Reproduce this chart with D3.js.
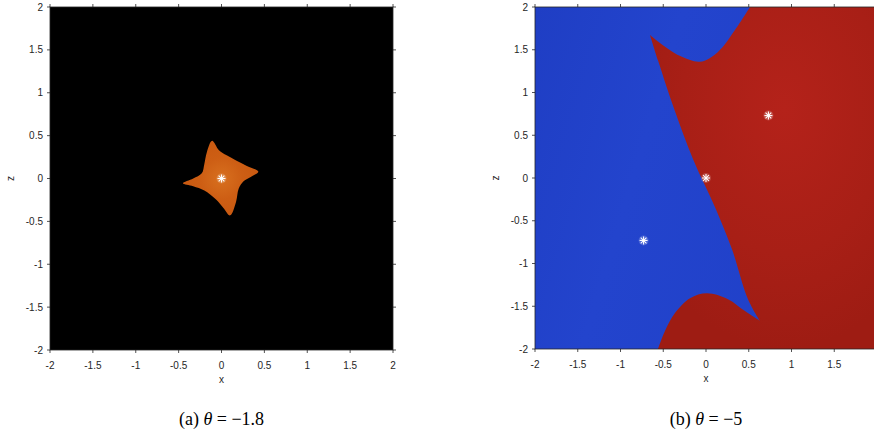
<!DOCTYPE html>
<html><head><meta charset="utf-8">
<script src="https://cdn.jsdelivr.net/npm/d3@7"></script>
<style>body{margin:0;background:#fff}svg{display:block}</style>
</head><body>
<svg id="c" width="874" height="436"></svg>
<script>
// ---------- data ----------
const tickValues = [-2, -1.5, -1, -0.5, 0, 0.5, 1, 1.5, 2];
const tickLabels = ["-2", "-1.5", "-1", "-0.5", "0", "0.5", "1", "1.5", "2"];
const captions = ["(a) ", "(b) "];
const thetaValues = ["\u22121.8", "\u22125"];
// panel (a): boundary of the orange basin (x, z)
const basinA = [
  [-0.11, 0.44], [-0.03, 0.33], [0.06, 0.27], [0.17, 0.21], [0.29, 0.15],
  [0.43, 0.08], [0.36, 0.03], [0.26, -0.03], [0.20, -0.12], [0.17, -0.27],
  [0.10, -0.43], [0.02, -0.34], [-0.07, -0.24], [-0.20, -0.14], [-0.33, -0.09],
  [-0.45, -0.056], [-0.33, 0.0], [-0.23, 0.06], [-0.20, 0.17], [-0.17, 0.31]
];
const fixedA = [[0, 0]];
// panel (b): boundary of the red basin, three pieces (x, z)
const basinBArch = [[0.515, 2.0], [0.339, 1.73], [0.14, 1.475], [-0.07, 1.36], [-0.281, 1.417], [-0.491, 1.545], [-0.655, 1.673]];
const basinBEdge = [[-0.655, 1.673], [-0.56, 1.37], [-0.37, 0.80], [-0.15, 0.216], [0.117, -0.367], [0.304, -0.834], [0.491, -1.417], [0.632, -1.673]];
const basinBHump = [[0.632, -1.673], [0.456, -1.557], [0.257, -1.417], [0.012, -1.347], [-0.187, -1.405], [-0.363, -1.58], [-0.48, -1.79], [-0.561, -2.0]];
const basinBCorners = [[2.2, -2.0], [2.2, 2.0]];
const fixedB = [[0, 0], [0.73, 0.73], [-0.73, -0.73]];

// ---------- drawing ----------
const svg = d3.select("#c");
const defs = svg.append("defs");
const axisColor = "#262626";
const font = "Liberation Sans, Arial, sans-serif";

const panels = [
  {left: 50, top: 7, size: 343, cx: 221.5, caption: 0},
  {left: 535, top: 7, size: 342, cx: 706, caption: 1}
];

const gA = defs.append("radialGradient").attr("id", "gA");
gA.append("stop").attr("offset", "0%").attr("stop-color", "#d8701f");
gA.append("stop").attr("offset", "35%").attr("stop-color", "#cd5e14");
gA.append("stop").attr("offset", "100%").attr("stop-color", "#c4540d");
const gBlue = defs.append("linearGradient").attr("id", "gBlue").attr("x1", "0").attr("y1", "0").attr("x2", "1").attr("y2", "0.3");
gBlue.append("stop").attr("offset", "0%").attr("stop-color", "#1f3ec4");
gBlue.append("stop").attr("offset", "40%").attr("stop-color", "#2344cd");
gBlue.append("stop").attr("offset", "100%").attr("stop-color", "#2040c8");
const gRed = defs.append("radialGradient").attr("id", "gRed").attr("cx", "0.55").attr("cy", "0.3").attr("r", "0.7");
gRed.append("stop").attr("offset", "0%").attr("stop-color", "#b4221a");
gRed.append("stop").attr("offset", "60%").attr("stop-color", "#a81f16");
gRed.append("stop").attr("offset", "100%").attr("stop-color", "#9e1c13");

function asterisk(g, pts, x, y) {
  const r = 4;
  pts.forEach(p => {
    const px = x(p[0]), py = y(p[1]);
    const gg = g.append("g").attr("transform", `translate(${px},${py})`);
    gg.append("circle").attr("r", 5).attr("fill", "#fff").attr("opacity", 0.18);
    [[r, 0], [0, r], [r * 0.72, r * 0.72], [r * 0.72, -r * 0.72]].forEach(d => {
      gg.append("line").attr("x1", -d[0]).attr("y1", -d[1]).attr("x2", d[0]).attr("y2", d[1])
        .attr("stroke", "#fff").attr("stroke-width", 1.1);
    });
  });
}

panels.forEach((P, i) => {
  const x = d3.scaleLinear().domain([-2, 2]).range([P.left, P.left + P.size]);
  const y = d3.scaleLinear().domain([-2, 2]).range([P.top + P.size, P.top]);
  const g = svg.append("g");
  const clipId = "clip" + i;
  defs.append("clipPath").attr("id", clipId).append("rect")
    .attr("x", x(-2)).attr("y", y(2)).attr("width", x(2) - x(-2)).attr("height", y(-2) - y(2));
  const img = g.append("g").attr("clip-path", `url(#${clipId})`);

  if (i === 0) {
    img.append("rect").attr("x", x(-2)).attr("y", y(2)).attr("width", x(2) - x(-2)).attr("height", y(-2) - y(2)).attr("fill", "#000");
    const line = d3.line().x(d => x(d[0])).y(d => y(d[1])).curve(d3.curveCatmullRomClosed.alpha(0.5));
    defs.select("#gA").attr("gradientUnits", "userSpaceOnUse").attr("cx", x(0)).attr("cy", y(0)).attr("r", 60);
    img.append("path").attr("d", line(basinA)).attr("fill", "url(#gA)");
    asterisk(img, fixedA, x, y);
  } else {
    img.append("rect").attr("x", x(-2)).attr("y", y(2)).attr("width", x(2) - x(-2)).attr("height", y(-2) - y(2)).attr("fill", "url(#gBlue)");
    const cr = d3.line().x(d => x(d[0])).y(d => y(d[1])).curve(d3.curveCatmullRom.alpha(0.5));
    const lin = d3.line().x(d => x(d[0])).y(d => y(d[1]));
    let dpath = cr(basinBArch) + cr(basinBEdge).replace(/^M/, "L") + cr(basinBHump).replace(/^M/, "L")
      + lin(basinBCorners).replace(/^M/, "L") + "Z";
    img.append("path").attr("d", dpath).attr("fill", "url(#gRed)");
    asterisk(img, fixedB, x, y);
  }

  g.append("rect").attr("x", x(-2)).attr("y", y(2)).attr("width", x(2) - x(-2)).attr("height", y(-2) - y(2))
    .attr("fill", "none").attr("stroke", axisColor).attr("stroke-width", 0.8);

  const t = 3;
  tickValues.forEach(v => {
    g.append("line").attr("x1", x(v)).attr("x2", x(v)).attr("y1", y(-2)).attr("y2", y(-2) + t).attr("stroke", axisColor).attr("stroke-width", 0.8);
    g.append("line").attr("x1", x(v)).attr("x2", x(v)).attr("y1", y(2)).attr("y2", y(2) - t).attr("stroke", axisColor).attr("stroke-width", 0.8);
    g.append("line").attr("y1", y(v)).attr("y2", y(v)).attr("x1", x(-2)).attr("x2", x(-2) - t).attr("stroke", axisColor).attr("stroke-width", 0.8);
    g.append("line").attr("y1", y(v)).attr("y2", y(v)).attr("x1", x(2)).attr("x2", x(2) + t).attr("stroke", axisColor).attr("stroke-width", 0.8);
  });
  tickValues.forEach((v, k) => {
    g.append("text").attr("x", x(v)).attr("y", y(-2) + 19).attr("text-anchor", "middle")
      .attr("font-family", font).attr("font-size", 10).attr("fill", axisColor).text(tickLabels[k]);
    g.append("text").attr("x", x(-2) - 7).attr("y", y(v) + 3.5).attr("text-anchor", "end")
      .attr("font-family", font).attr("font-size", 10).attr("fill", axisColor).text(tickLabels[k]);
  });
  g.append("text").attr("x", x(0)).attr("y", y(-2) + 33).attr("text-anchor", "middle")
    .attr("font-family", font).attr("font-size", 10).attr("fill", axisColor).text("x");
  g.append("text").attr("transform", `translate(${x(-2) - 36},${y(0)}) rotate(-90)`).attr("text-anchor", "middle")
    .attr("font-family", font).attr("font-size", 10).attr("fill", axisColor).text("z");

  const cap = svg.append("text").attr("x", P.cx).attr("y", 425).attr("text-anchor", "middle")
    .attr("font-family", "Liberation Serif, Times New Roman, serif").attr("font-size", 18).attr("fill", "#000");
  cap.append("tspan").text(captions[i]);
  cap.append("tspan").attr("font-style", "italic").text("\u03b8");
  cap.append("tspan").text(" = " + thetaValues[i]);
});
</script>
</body></html>
